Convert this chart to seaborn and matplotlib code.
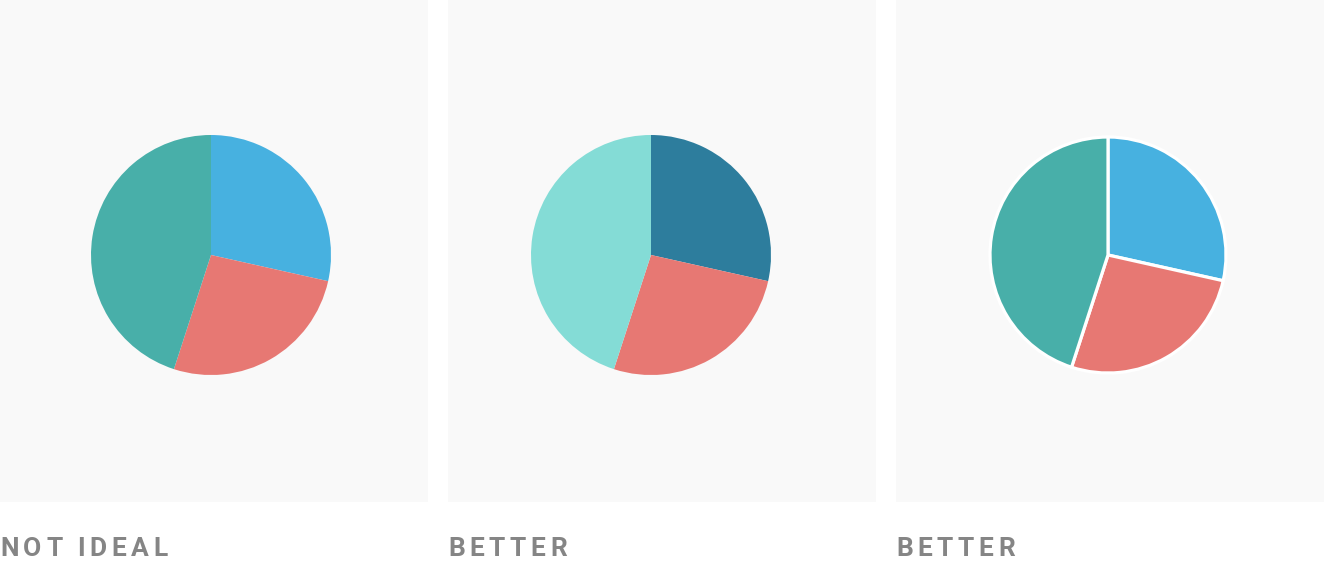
import matplotlib
matplotlib.use("Agg")
import matplotlib.pyplot as plt
import seaborn as sns

sns.set_theme(style="white")
plt.rcParams['font.family'] = ['Roboto', 'DejaVu Sans']

labels = ["A", "B", "C"]
values = [28.5, 26.5, 45.0]
titles = ["NOT IDEAL", "BETTER", "BETTER"]
palettes = [
    ["#47B1E0", "#E77873", "#48AFA9"],
    ["#2D7D9D", "#E77873", "#84DCD6"],
    ["#47B1E0", "#E77873", "#48AFA9"],
]

W, H = 1324, 564
fig = plt.figure(figsize=(W / 100, H / 100), dpi=100)
fig.patch.set_facecolor("white")

panel_left = [0, 448, 896]
panel_w, panel_h = 428, 502
centers = [211, 203, 212]
radii = [120, 120, 118]
edges = [0, 0, 2.3]

for i in range(3):
    ax = fig.add_axes([panel_left[i] / W, (H - panel_h) / H, panel_w / W, panel_h / H])
    r = radii[i]
    wedgeprops = {"linewidth": edges[i], "edgecolor": "white"} if edges[i] else {"linewidth": 0}
    ax.pie(values, colors=palettes[i], startangle=90, counterclock=False,
           radius=1, wedgeprops=wedgeprops)
    ax.set_frame_on(True)
    ax.set_facecolor("#F9F9F9")
    cx = centers[i]
    ax.set_xlim(-cx / r, (panel_w - cx) / r)
    ax.set_ylim(-(panel_h - 255) / r, 255 / r)
    ax.set_aspect("auto")
    for s in ax.spines.values():
        s.set_visible(False)
    ax.set_xticks([])
    ax.set_yticks([])

fig.canvas.draw()
renderer = fig.canvas.get_renderer()
spacing = 4.6  # px
for i, t in enumerate(titles):
    x = panel_left[i] + 0
    for ch in t:
        txt = fig.text(x / W, (H - 556) / H, ch, fontsize=19, fontweight="bold",
                       color="#858585", ha="left", va="baseline")
        if ch == " ":
            w = 6
        else:
            bb = txt.get_window_extent(renderer=renderer)
            w = bb.width
        x += w + spacing

fig.savefig("out.png", dpi=100, facecolor="white")
